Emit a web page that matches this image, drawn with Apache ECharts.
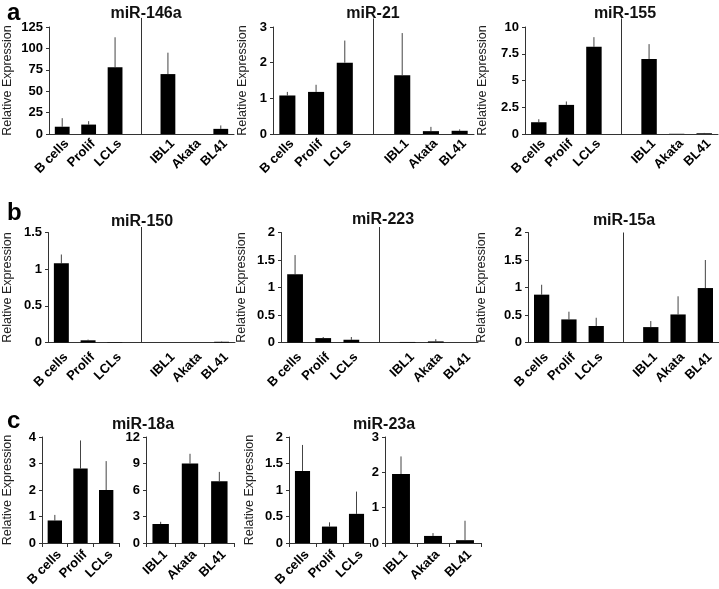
<!DOCTYPE html>
<html>
<head>
<meta charset="utf-8">
<script src="https://cdn.jsdelivr.net/npm/echarts@6/dist/echarts.min.js"></script>
<style>html,body{margin:0;padding:0;background:#fff}#c{width:719px;height:589px}</style>
</head>
<body>
<div id="c"></div>
<script>
// ---- data ----
const catsFull = ['B cells', 'Prolif', 'LCLs', '', 'IBL1', 'Akata', 'BL41'];
const catsLeft = ['B cells', 'Prolif', 'LCLs'];
const catsRight = ['IBL1', 'Akata', 'BL41'];

const miR146a = [8.5, 11, 78, null, 70, 0, 6];
const miR146aErr = [10, 4, 35, null, 25, 0, 4];
const miR21 = [1.08, 1.18, 2.0, null, 1.65, 0.08, 0.09];
const miR21Err = [0.1, 0.2, 0.62, null, 1.18, 0.12, 0.04];
const miR155 = [1.1, 2.72, 8.15, null, 7.0, 0.02, 0.07];
const miR155Err = [0.28, 0.32, 0.9, null, 1.4, 0, 0.03];
const miR150 = [1.08, 0.03, 0.005, null, 0, 0, 0.01];
const miR150Err = [0.12, 0.01, 0, null, 0, 0, 0.005];
const miR223 = [1.24, 0.08, 0.05, null, 0.01, 0.02, 0];
const miR223Err = [0.35, 0.02, 0.05, null, 0, 0.04, 0];
const miR15a = [0.87, 0.42, 0.30, null, 0.28, 0.51, 0.99];
const miR15aErr = [0.18, 0.14, 0.15, null, 0.11, 0.33, 0.51];
const miR18aLeft = [0.85, 2.81, 2.0];
const miR18aLeftErr = [0.21, 1.06, 1.09];
const miR18aRight = [2.15, 9.0, 7.0];
const miR18aRightErr = [0.25, 1.1, 1.05];
const miR23aLeft = [1.36, 0.31, 0.55];
const miR23aLeftErr = [0.49, 0.08, 0.42];
const miR23aRight = [1.95, 0.2, 0.08];
const miR23aRightErr = [0.5, 0.08, 0.55];

const yTicks146a = {max: 125, interval: 25};
const yTicks21 = {max: 3, interval: 1};
const yTicks155 = {max: 10, interval: 2.5};
const yTicks150 = {max: 1.5, interval: 0.5};
const yTicks223 = {max: 2, interval: 0.5};
const yTicks15a = {max: 2, interval: 0.5};
const yTicks18aL = {max: 4, interval: 1};
const yTicks18aR = {max: 12, interval: 3};
const yTicks23aL = {max: 2, interval: 0.5};
const yTicks23aR = {max: 3, interval: 1};

const titles = ['miR-146a', 'miR-21', 'miR-155', 'miR-150', 'miR-223', 'miR-15a', 'miR-18a', 'miR-23a'];
const panelLetters = ['a', 'b', 'c'];
const yName = 'Relative Expression';

// ---- layout ----
const FONT = '"Liberation Sans", Arial, Helvetica, sans-serif';
const rowA = {top: 27, height: 107};
const rowB = {top: 232.5, height: 110};
const rowC = {top: 437, height: 106};

const panels = [
  {cats: catsFull, vals: miR146a, err: miR146aErr, y: yTicks146a, grid: {left: 44, width: 190, ...rowA}, div: 1.085, name: true, gap: 35, margin: 3, ticks: false},
  {cats: catsFull, vals: miR21, err: miR21Err, y: yTicks21, grid: {left: 273, width: 201, ...rowA}, div: 1.08, name: true, gap: 24, margin: 3, ticks: false},
  {cats: catsFull, vals: miR155, err: miR155Err, y: yTicks155, grid: {left: 525, width: 193, ...rowA}, div: 1.08, name: true, gap: 36, margin: 3, ticks: false},
  {cats: catsFull, vals: miR150, err: miR150Err, y: yTicks150, grid: {left: 43, width: 192, ...rowB}, div: 1.05, name: true, gap: 34, margin: 8, ticks: false},
  {cats: catsFull, vals: miR223, err: miR223Err, y: yTicks223, grid: {left: 281, width: 197, ...rowB}, div: 1.05, name: true, gap: 33, margin: 8, ticks: false},
  {cats: catsFull, vals: miR15a, err: miR15aErr, y: yTicks15a, grid: {left: 528, width: 191, ...rowB}, div: 1.0, name: true, gap: 40, margin: 8, ticks: false},
  {cats: catsLeft, vals: miR18aLeft, err: miR18aLeftErr, y: yTicks18aL, grid: {left: 37, width: 82, ...rowC}, div: 0, name: true, gap: 28, margin: 5, ticks: true},
  {cats: catsRight, vals: miR18aRight, err: miR18aRightErr, y: yTicks18aR, grid: {left: 146, width: 88, ...rowC}, div: 0, name: false, gap: 0, margin: 5, ticks: true},
  {cats: catsLeft, vals: miR23aLeft, err: miR23aLeftErr, y: yTicks23aL, grid: {left: 289, width: 81, ...rowC}, div: 0, name: true, gap: 33, margin: 5, ticks: true},
  {cats: catsRight, vals: miR23aRight, err: miR23aRightErr, y: yTicks23aR, grid: {left: 385, width: 96, ...rowC}, div: 0, name: false, gap: 0, margin: 5, ticks: true}
];
const titlePos = [[141, 1], [368, 1], [620, 1], [137, 209], [378, 207], [619, 208], [138, 412], [379, 412]];
const letterPos = [[2, -4], [2, 196], [2, 404]];

const grids = [], xAxes = [], yAxes = [], series = [];
panels.forEach((p, i) => {
  grids.push({left: p.grid.left, top: p.grid.top, width: p.grid.width, height: p.grid.height, containLabel: false});
  xAxes.push({
    type: 'category', gridIndex: i, data: p.cats,
    axisLine: {show: true, lineStyle: {color: '#333', width: 1}},
    axisTick: {show: p.ticks, length: 4, lineStyle: {color: '#333'}},
    axisLabel: {interval: 0, rotate: 45, margin: p.margin, verticalAlign: 'top', color: '#000', fontFamily: FONT, fontWeight: 'bold', fontSize: 13}
  });
  yAxes.push({
    type: 'value', gridIndex: i, min: 0, max: p.y.max, interval: p.y.interval,
    name: p.name ? yName : '', nameLocation: 'middle', nameGap: p.gap,
    nameTextStyle: {color: '#222', fontFamily: FONT, fontSize: 12.5},
    axisLine: {show: true, lineStyle: {color: '#333', width: 1}},
    axisTick: {show: true, length: 3, lineStyle: {color: '#333'}},
    splitLine: {show: false},
    axisLabel: {margin: 6, color: '#000', fontFamily: FONT, fontWeight: 'bold', fontSize: 13}
  });
  series.push({
    type: 'bar', xAxisIndex: i, yAxisIndex: i, data: p.vals, barWidth: '56%',
    itemStyle: {color: '#000'}, silent: true, animation: false
  });
  series.push({
    type: 'custom', xAxisIndex: i, yAxisIndex: i, animation: false, silent: true, clip: false,
    data: p.err.map((e, k) => [k, p.vals[k], e]),
    encode: {x: 0, y: 1},
    renderItem: (params, api) => {
      const e = api.value(2), v = api.value(1);
      if (!e || v == null || isNaN(v)) return null;
      const a = api.coord([api.value(0), v]);
      const b = api.coord([api.value(0), v + e]);
      return {type: 'line', shape: {x1: a[0], y1: a[1], x2: b[0], y2: b[1]}, style: {stroke: '#444', lineWidth: 1}};
    }
  });
  if (p.div) {
    series.push({
      type: 'custom', xAxisIndex: i, yAxisIndex: i, animation: false, silent: true, clip: false,
      data: [[3, p.y.max * p.div]],
      encode: {x: 0, y: 1},
      renderItem: (params, api) => {
        const a = api.coord([api.value(0), 0]);
        const b = api.coord([api.value(0), api.value(1)]);
        return {type: 'line', shape: {x1: a[0], y1: a[1], x2: b[0], y2: b[1]}, style: {stroke: '#333', lineWidth: 1}};
      }
    });
  }
});

const titleOpts = titles.map((t, i) => ({
  text: t, left: titlePos[i][0], top: titlePos[i][1], textAlign: 'center',
  textStyle: {fontFamily: FONT, fontWeight: 'bold', fontSize: 16, color: '#111'}
}));
letterPos.forEach((pos, i) => titleOpts.push({
  text: panelLetters[i], left: pos[0], top: pos[1],
  textStyle: {fontFamily: FONT, fontWeight: 'bold', fontSize: 24, color: '#000'}
}));

const chart = echarts.init(document.getElementById('c'), null, {renderer: 'canvas'});
chart.setOption({
  backgroundColor: '#fff',
  animation: false,
  title: titleOpts,
  grid: grids,
  xAxis: xAxes,
  yAxis: yAxes,
  series: series
});
</script>
</body>
</html>
